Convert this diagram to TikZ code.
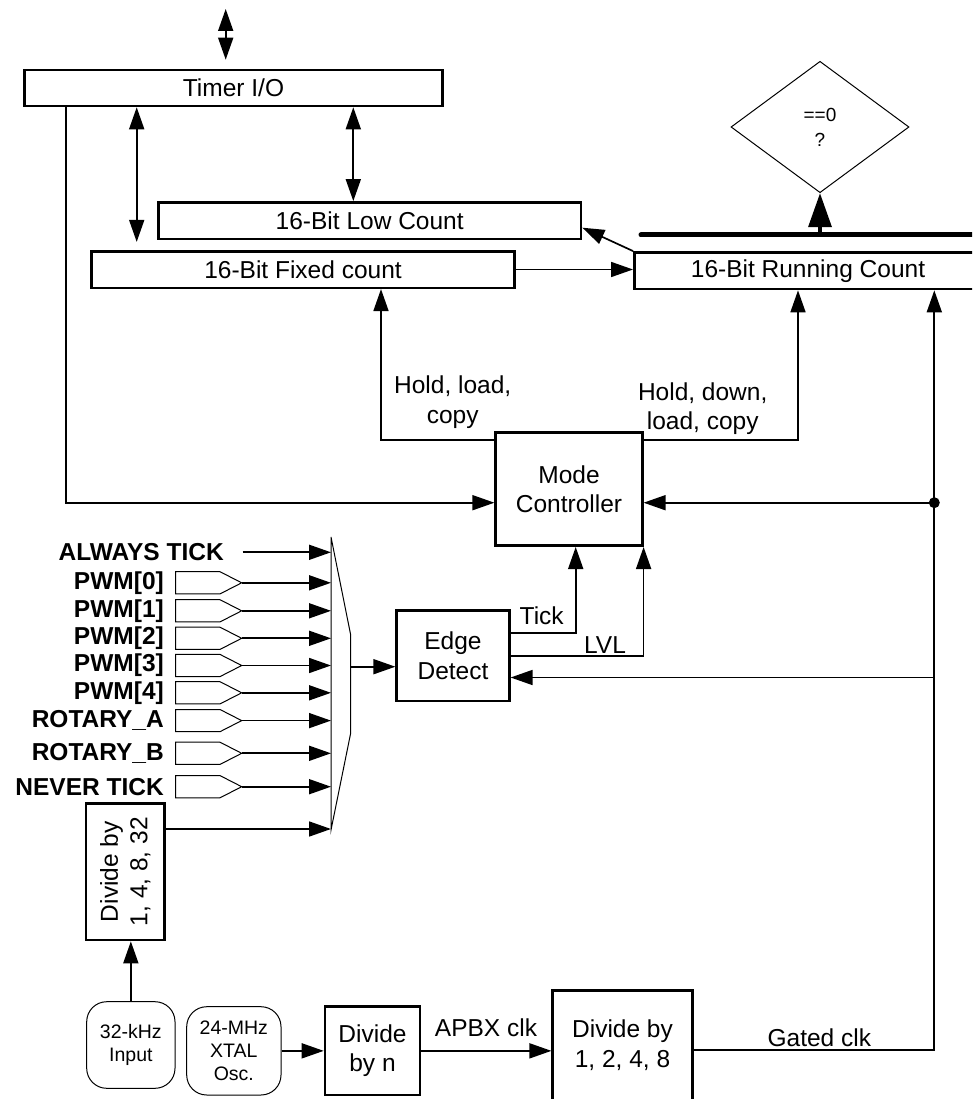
\documentclass[tikz,border=0pt]{standalone}
\usepackage{fontspec}
\setmainfont{Liberation Sans}
\usetikzlibrary{arrows.meta,shapes.geometric}
\begin{document}
\begin{tikzpicture}[x=1pt,y=-1pt,
  font=\fontsize{24.5}{29.5}\selectfont,
  blk/.style={draw, line width=2.6pt, inner sep=0pt, align=center},
  rbox/.style={draw, line width=1pt, rounded corners=20pt, inner sep=0pt, align=center, font=\fontsize{19.5}{23.3}\selectfont},
  conn/.style={line width=1.7pt, -{Triangle[length=22pt,width=15pt]}},
  dconn/.style={line width=1.7pt, {Triangle[length=22pt,width=15pt]}-{Triangle[length=22pt,width=15pt]}},
  thinline/.style={line width=1pt},
  lbl/.style={inner sep=0pt, align=center},
  inlbl/.style={inner sep=0pt, anchor=east, font=\fontsize{24.5}{29.5}\selectfont\bfseries},
  ]
\clip (0,0) rectangle (972,1099);

% boxes
\node[blk, minimum width=418.4pt, minimum height=36pt] (tio) at (233.5,88) {Timer I/O};
\node[blk, minimum width=422.7pt, minimum height=36.6pt] (low) at (369.7,220.7) {16-Bit Low Count};
\node[blk, minimum width=422.6pt, minimum height=36.6pt] (fix) at (303,269.5) {16-Bit Fixed count};
\node[blk, minimum width=347.4pt, minimum height=36.7pt] (run) at (808,270.7) {16-Bit Running Count};
\node[blk, minimum width=146.6pt, minimum height=113pt] (mode) at (569,489.2) {Mode\\Controller};
\node[blk, minimum width=112.6pt, minimum height=90.3pt] (edge) at (453,655.8) {Edge\\Detect};
\node[blk, minimum width=78.3pt, minimum height=136.7pt] (div32) at (125.2,871.7) {};
\node[lbl, rotate=90] (div32t) at (div32.center) {Divide by\\1, 4, 8, 32};
\node[rbox, minimum width=88.3pt, minimum height=86.6pt] (inp) at (130.85,1045) {32-kHz\\Input};
\node[rbox, minimum width=94.3pt, minimum height=88.3pt] (xtal) at (233.85,1050.85) {24-MHz\\XTAL\\Osc.};
\node[blk, minimum width=95pt, minimum height=88.3pt] (divn) at (372.5,1050.85) {Divide\\by n};
\node[blk, minimum width=139.6pt, minimum height=109.3pt] (div4) at (622.5,1045.35) {Divide by\\1, 2, 4, 8};
\node[diamond, draw, line width=1pt, minimum width=178pt, minimum height=131.4pt, inner sep=0pt,
      align=center, font=\fontsize{19}{25}\selectfont] (dia) at (820,127) {==0\\?};

% helper coordinates
\coordinate (ext) at (225.7,9);
\coordinate (xa) at (136.7,0);
\coordinate (xb) at (353.3,0);
\coordinate (xc) at (381,0);
\coordinate (xd) at (798,0);
\coordinate (xe) at (65.7,0);
\coordinate (xf) at (934.3,0);
\coordinate (xg) at (575.7,0);
\coordinate (mxl) at (331,0);
\coordinate (busL) at (641,235);
\coordinate (busR) at (990,235);
\coordinate (busT) at (820,235);
\coordinate (dot) at (934.3,502.7);
\coordinate (eb) at (934.3,677.5);
\coordinate (muxout) at (350.7,666.7);

% top I/O connections
\draw[dconn, shorten >=9pt] (ext) -- (ext |- tio.north);
\draw[dconn, shorten >=8pt] (tio.south -| xa) -- (fix.north -| xa);
\draw[dconn] (tio.south -| xb) -- (low.north -| xb);
\draw[conn] (fix.east) -- (fix.east -| run.west);
\draw[conn] (run.north west) -- ([yshift=-7pt]low.east);

% bus and compare
\draw[line width=5pt, line cap=round] (busL) -- (busR);
\draw[line width=3.5pt, -{Triangle[length=34pt,width=23pt]}] (busT) -- (dia.south);

% mode controller outputs
\draw[conn] ([yshift=-8.3pt]mode.north west) -| (fix.south -| xc);
\draw[conn] ([yshift=-8.3pt]mode.north east) -| (run.south -| xd);
\node[lbl] (l1) at (452.7,402.3) {Hold, load,\\copy};
\node[lbl] (l2) at (702.7,408.7) {Hold, down,\\load, copy};

% timer I/O to mode controller
\draw[conn] (tio.south -| xe) |- ([yshift=-13.5pt]mode.west);

% clock path
\draw[conn] ([yshift=-4.65pt]div4.east) -| (run.south -| xf);
\node[lbl] (gclk) at (819.3,1037.3) {Gated clk};
\fill (dot) circle (5.5pt);
\draw[conn] (dot) -- (dot -| mode.east);
\draw[conn] (eb) -- (eb -| edge.east);

% edge detect outputs
\draw[conn] ([yshift=22.5pt]edge.east) -| (mode.south -| xg);
\draw[conn] (edge.east) -| (mode.south east);
\node[lbl] (tick) at (541.7,616) {Tick};
\node[lbl] (lvl) at (605,645) {LVL};

% mux
\draw[thinline] (331,537) -- (350.7,635) -- (350.7,733) -- (331,830) -- cycle;
\draw[conn] (muxout) -- (muxout -| edge.west);

% mux inputs
\coordinate (aw) at (242.7,552.3);
\draw[conn] (aw) -- (aw -| mxl);
\node[inlbl] (awl) at (224,552.3) {ALWAYS TICK};
\foreach \y/\t [count=\i] in {582.8/{PWM[0]}, 610.8/{PWM[1]}, 638.3/{PWM[2]}, 665.5/{PWM[3]},
    692.8/{PWM[4]}, 720.6/{ROTARY\_A}, 753.3/{ROTARY\_B}, 786.7/{NEVER TICK}} {
  \draw[thinline] (175.7,\y-11.1) -- (220,\y-11.1) -- (241.7,\y) -- (220,\y+11.1) -- (175.7,\y+11.1) -- cycle;
  \coordinate (in\i) at (241.7,\y);
  \draw[conn] (in\i) -- (in\i -| mxl);
  \node[inlbl] (inl\i) at (164,\y) {\t};
}
\draw[conn] ([yshift=42.7pt]div32.east) coordinate (d32o) -- (d32o -| mxl);

% clock sources
\draw[conn] (inp.north) -- (inp.north |- div32.south);
\draw[conn] (xtal.east) -- (divn.west);
\draw[conn] (divn.east) -- (divn.east -| div4.west);
\node[lbl] (apbx) at (486,1028) {APBX clk};
\end{tikzpicture}
\end{document}
